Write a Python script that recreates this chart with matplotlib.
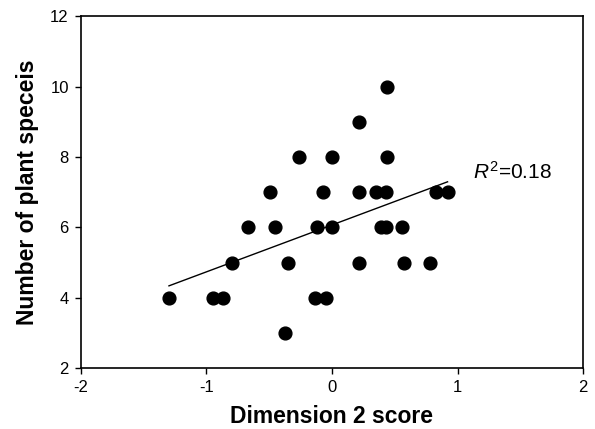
import numpy as np
import matplotlib
matplotlib.use("Agg")
import matplotlib.pyplot as plt

plt.rcParams['font.family'] = ['Liberation Sans', 'DejaVu Sans']
plt.rcParams['mathtext.fontset'] = 'custom'
plt.rcParams['mathtext.rm'] = 'Liberation Sans'
plt.rcParams['mathtext.it'] = 'Liberation Sans:italic'
plt.rcParams['axes.unicode_minus'] = False

# Data
dim2_score = [-0.37,
              -1.297, -0.944, -0.870, -0.135, -0.048,
              -0.793, -0.352, 0.215, 0.570, 0.777,
              -0.671, -0.453, -0.119, 0.000, 0.387, 0.427, 0.560,
              -0.493, -0.071, 0.215, 0.348, 0.432, 0.825, 0.920,
              -0.262, 0.000, 0.437,
              0.215,
              0.437]
n_species = [3,
             4, 4, 4, 4, 4,
             5, 5, 5, 5, 5,
             6, 6, 6, 6, 6, 6, 6,
             7, 7, 7, 7, 7, 7, 7,
             8, 8, 8,
             9,
             10]
x_ticks = [-2, -1, 0, 1, 2]
y_ticks = [2, 4, 6, 8, 10, 12]
r2_label = r'$\it{R}^{2}$=0.18'

x = np.array(dim2_score)
y = np.array(n_species)
slope, intercept = np.polyfit(x, y, 1)
xl = np.array([x.min(), x.max()])

fig = plt.figure(figsize=(5.95, 4.29), dpi=100)
ax = fig.add_axes([0.1355, 0.1415, 0.8448, 0.8205])
ax.plot(xl, slope * xl + intercept, color='black', lw=1.0, zorder=2)
ax.plot(x, y, 'o', color='black', ms=9.2, zorder=3)

ax.set_xlim(-2, 2)
ax.set_ylim(2, 12)
ax.set_xticks(x_ticks)
ax.set_yticks(y_ticks)
ax.tick_params(direction='out', length=4.5, width=1.0, labelsize=12, pad=4,
               top=False, right=False)
for s in ax.spines.values():
    s.set_linewidth(1.2)

ax.set_xlabel('Dimension 2 score', fontsize=16.5, fontweight='bold', labelpad=7)
ax.set_ylabel('Number of plant speceis', fontsize=16.5, fontweight='bold', labelpad=8)

ax.text(1.12, 7.59, r2_label, fontsize=15, va='center', ha='left')

fig.savefig('out.png', dpi=100)
